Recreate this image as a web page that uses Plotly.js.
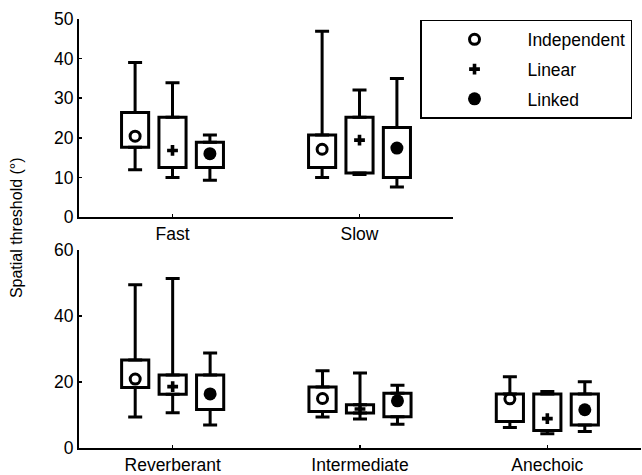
<!DOCTYPE html>
<html>
<head>
<meta charset="utf-8">
<script src="https://cdn.plot.ly/plotly-3.0.1.min.js"></script>
<style>html,body{margin:0;padding:0;background:#fff;}#chart{width:642px;height:475px;}</style>
</head>
<body>
<div id="chart"></div>
<script>
// ---- data ----
const seriesNames = ['Independent', 'Linear', 'Linked'];
const topCategories = ['Fast', 'Slow'];
const bottomCategories = ['Reverberant', 'Intermediate', 'Anechoic'];

// [series][category]
const topLower  = [[11.9, 10.0], [10.0, 10.7], [9.3, 7.6]];
const topQ1     = [[17.6, 12.5], [12.5, 11.1], [12.5, 10.0]];
const topQ3     = [[26.4, 20.7], [25.2, 25.2], [18.9, 22.6]];
const topUpper  = [[39.0, 46.9], [33.9, 32.1], [20.7, 35.0]];
const topCenter = [[20.4, 17.1], [16.8, 19.4], [16.0, 17.4]];

const botLower  = [[9.4, 9.4, 6.2], [10.7, 8.8, 4.3], [7.0, 7.2, 5.0]];
const botQ1     = [[18.3, 11.1, 8.0], [16.3, 10.6, 5.3], [11.7, 9.5, 7.0]];
const botQ3     = [[26.7, 18.5, 16.4], [22.1, 13.1, 16.4], [22.1, 16.6, 16.4]];
const botUpper  = [[49.5, 23.4, 21.6], [51.4, 22.7, 17.1], [28.8, 19.0, 20.1]];
const botCenter = [[20.9, 15.0, 14.9], [18.6, 11.8, 8.9], [16.4, 14.3, 11.6]];

const topYTicks = [0, 10, 20, 30, 40, 50];
const botYTicks = [0, 20, 40, 60];

// ---- drawing ----
const offsets = [-0.2, 0, 0.2];
const markerStyles = [
  {symbol: 'circle-open', size: 10, color: '#000', line: {width: 3, color: '#000'}},
  {symbol: 'cross', size: 9, color: '#000', line: {width: 0}},
  {symbol: 'circle', size: 13, color: '#000', line: {width: 0}}
];

const traces = [];
function addPanel(lower, q1, q3, upper, center, nCat, xa, ya, legend) {
  for (let s = 0; s < seriesNames.length; s++) {
    const xs = [];
    for (let c = 0; c < nCat; c++) xs.push(c + offsets[s]);
    traces.push({
      type: 'bar', x: xs, base: q1[s], y: q3[s].map((v, i) => v - q1[s][i]),
      width: 0.145, marker: {color: '#fff', line: {color: '#000', width: 3}},
      xaxis: xa, yaxis: ya, showlegend: false, hoverinfo: 'skip'
    });
    traces.push({
      type: 'scatter', mode: 'none', x: xs, y: q3[s],
      error_y: {type: 'data', symmetric: false, array: upper[s].map((v, i) => v - q3[s][i]),
        arrayminus: q3[s].map(() => 0), color: '#000', thickness: 3, width: 7},
      xaxis: xa, yaxis: ya, showlegend: false, hoverinfo: 'skip'
    });
    traces.push({
      type: 'scatter', mode: 'none', x: xs, y: q1[s],
      error_y: {type: 'data', symmetric: false, array: q1[s].map(() => 0),
        arrayminus: q1[s].map((v, i) => v - lower[s][i]), color: '#000', thickness: 3, width: 7},
      xaxis: xa, yaxis: ya, showlegend: false, hoverinfo: 'skip'
    });
  }
  for (let s = 0; s < seriesNames.length; s++) {
    const xs = [];
    for (let c = 0; c < nCat; c++) xs.push(c + offsets[s]);
    traces.push({
      type: 'scatter', mode: 'markers', x: xs, y: center[s], name: seriesNames[s],
      marker: markerStyles[s], xaxis: xa, yaxis: ya, showlegend: legend,
      legendgroup: 'g' + s
    });
  }
}
addPanel(topLower, topQ1, topQ3, topUpper, topCenter, topCategories.length, 'x', 'y', true);
addPanel(botLower, botQ1, botQ3, botUpper, botCenter, bottomCategories.length, 'x2', 'y2', false);

const fontFam = 'Arial, "Liberation Sans", Helvetica, sans-serif';
const axisCommon = {
  showgrid: false, zeroline: false, showline: true, linecolor: '#000', linewidth: 2,
  ticks: 'inside', ticklen: 3, tickwidth: 1.5, tickcolor: '#000',
  tickfont: {family: fontFam, size: 17.5, color: '#000'}, fixedrange: true
};

const layout = {
  width: 642, height: 475,
  margin: {l: 79, r: 1, t: 19, b: 27},
  paper_bgcolor: '#fff', plot_bgcolor: '#fff',
  barmode: 'overlay',
  showlegend: true,
  font: {family: fontFam, color: '#000'},
  xaxis: Object.assign({}, axisCommon, {domain: [0, 0.6655], range: [-0.5, 1.5],
    tickmode: 'array', tickvals: topCategories.map((c, i) => i), ticktext: topCategories, anchor: 'y'}),
  yaxis: Object.assign({}, axisCommon, {domain: [0.5385, 1], range: [0, 50],
    tickmode: 'array', tickvals: topYTicks, anchor: 'x'}),
  xaxis2: Object.assign({}, axisCommon, {domain: [0, 1], range: [-0.5, 2.5],
    tickmode: 'array', tickvals: bottomCategories.map((c, i) => i), ticktext: bottomCategories, anchor: 'y2'}),
  yaxis2: Object.assign({}, axisCommon, {domain: [0, 0.4615], range: [0, 60],
    tickmode: 'array', tickvals: botYTicks, anchor: 'x2'}),
  legend: {
    x: 0.6068, y: 0.9977, xanchor: 'left', yanchor: 'top',
    bgcolor: '#fff', bordercolor: '#000', borderwidth: 1.5,
    font: {family: fontFam, size: 17.5, color: '#000'},
    tracegroupgap: 4, itemwidth: 96
  },
  annotations: [{
    text: 'Spatial threshold (°)', xref: 'paper', yref: 'paper',
    x: -0.11, y: 0.513, xanchor: 'center', textangle: -90, showarrow: false,
    font: {family: fontFam, size: 16, color: '#000'}
  }]
};

Plotly.newPlot('chart', traces, layout, {displayModeBar: false, staticPlot: true});
</script>
</body>
</html>
